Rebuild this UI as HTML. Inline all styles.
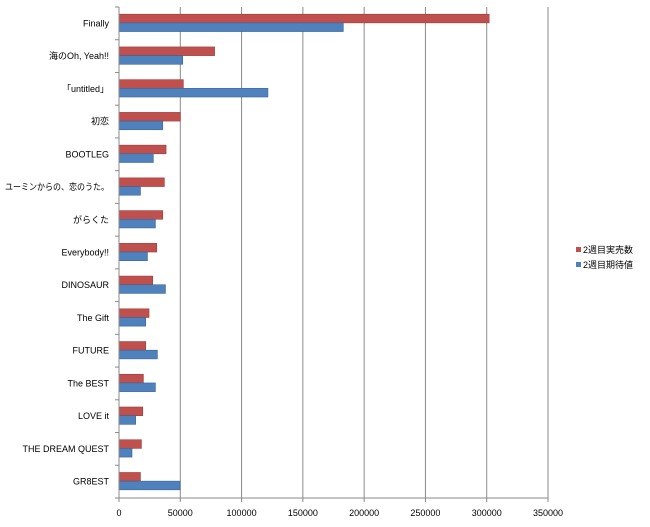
<!DOCTYPE html>
<html><head><meta charset="utf-8"><style>
html,body{margin:0;padding:0;background:#fff;}
svg text{font-family:"Liberation Sans","Noto Sans CJK JP",sans-serif;}
</style></head><body>
<svg id="chart" width="650" height="522" xmlns="http://www.w3.org/2000/svg">
<rect x="0" y="0" width="650" height="522" fill="#fff"/>
<g id="grid"></g>
<g id="bars"></g>
<g id="axes"></g>
<g id="legend">
  <rect x="576" y="247" width="5" height="5" fill="#C0504D"/>
  <text x="583" y="253" font-size="9" fill="#000">2週目実売数</text>
  <rect x="576" y="262" width="5" height="5" fill="#4F81BD"/>
  <text x="583" y="268" font-size="9" fill="#000">2週目期待値</text>
</g>
</svg>
<script>
const categories = ["Finally","海のOh, Yeah!!","「untitled」","初恋","BOOTLEG","ユーミンからの、恋のうた。","がらくた","Everybody!!","DINOSAUR","The Gift","FUTURE","The BEST","LOVE it","THE DREAM QUEST","GR8EST"];
const actualSales = [302000,78000,52500,50000,38400,37000,35700,30800,27500,24500,21800,19900,19400,18300,17500];
const expectedSales = [183000,52000,121500,35700,28000,17500,29700,23200,37900,21800,31300,29700,13600,10600,49800];
const xTicks = [0,50000,100000,150000,200000,250000,300000,350000];

const NS="http://www.w3.org/2000/svg";
const x0=119, x1=548, xMax=350000, yTop=7, yBot=498;
const rowH=(yBot-yTop)/categories.length;
function xs(v){return x0+(v/xMax)*(x1-x0);}
function rowY(i){return yTop+i*rowH;}
function mk(tag,attrs,parent){const e=document.createElementNS(NS,tag);for(const k in attrs)e.setAttribute(k,attrs[k]);parent.appendChild(e);return e;}
const grid=document.getElementById('grid'),bars=document.getElementById('bars'),axes=document.getElementById('axes');

xTicks.forEach((t,i)=>{
  if(t>0){const l=mk('line',{x1:xs(t),x2:xs(t),y1:yTop,y2:yBot,stroke:'#8a8a8a','stroke-width':1},grid);
  
  }
  const tk=mk('line',{x1:xs(t),x2:xs(t),y1:yBot,y2:yBot+4,stroke:'#8a8a8a'},axes);
  
  
  const tx=mk('text',{x:xs(t),y:516,'font-size':9,'text-anchor':'middle',fill:'#000'},axes);
  tx.textContent=String(t);
  
  
});

categories.forEach((c,i)=>{
  const y=rowY(i);
  const bh=rowH*0.265, off=rowH*0.22;
  const r=mk('rect',{x:x0,y:y+off,width:xs(actualSales[i])-x0,height:bh,fill:'#C0504D',stroke:'#9c3e3b','stroke-width':0.6},bars);
  
  
  const b=mk('rect',{x:x0,y:y+off+bh,width:xs(expectedSales[i])-x0,height:bh,fill:'#4F81BD',stroke:'#3a6496','stroke-width':0.6},bars);
  
  
  const t=mk('text',{x:109,y:y+rowH/2+3,'font-size':9,'text-anchor':'end',fill:'#000'},axes);
  t.textContent=c;
  
  
  if(t.getComputedTextLength()>104){
    t.setAttribute('textLength','104');
    t.setAttribute('lengthAdjust','spacingAndGlyphs');
  }
});
for(let i=0;i<=categories.length;i++){
  const tk=mk('line',{x1:x0-4,x2:x0,y1:rowY(i),y2:rowY(i),stroke:'#8a8a8a'},axes);
  
  
}
const ya=mk('line',{x1:x0,x2:x0,y1:yTop,y2:yBot,stroke:'#8a8a8a'},axes);


const xa=mk('line',{x1:x0,x2:x1,y1:yBot,y2:yBot,stroke:'#8a8a8a'},axes);


</script>
</body></html>
